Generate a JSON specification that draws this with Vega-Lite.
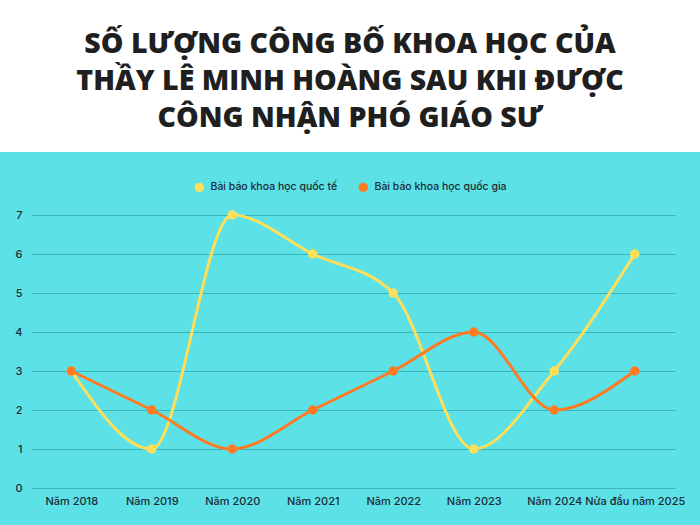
{
  "$schema": "https://vega.github.io/schema/vega-lite/v6.json",
  "background": "white",
  "padding": {"top": 29, "left": 0, "right": 0, "bottom": 0},
  "width": 700,
  "height": 373,
  "title": {
    "text": ["SỐ LƯỢNG CÔNG BỐ KHOA HỌC CỦA", "THẦY LÊ MINH HOÀNG SAU KHI ĐƯỢC", "CÔNG NHẬN PHÓ GIÁO SƯ"],
    "font": "Open Sans",
    "fontWeight": 800,
    "fontSize": 28.5,
    "lineHeight": 37,
    "color": "#1f1f1f",
    "anchor": "middle",
    "frame": "group",
    "offset": 20
  },
  "config": {
    "view": {"fill": "#5ce1e6", "stroke": null},
    "legend": {"layout": {"top": {"anchor": "middle"}}}
  },
  "data": {
    "values": [
      {"year": "Năm 2018", "series": "Bài báo khoa học quốc tế", "count": 3},
      {"year": "Năm 2018", "series": "Bài báo khoa học quốc gia", "count": 3},
      {"year": "Năm 2019", "series": "Bài báo khoa học quốc tế", "count": 1},
      {"year": "Năm 2019", "series": "Bài báo khoa học quốc gia", "count": 2},
      {"year": "Năm 2020", "series": "Bài báo khoa học quốc tế", "count": 7},
      {"year": "Năm 2020", "series": "Bài báo khoa học quốc gia", "count": 1},
      {"year": "Năm 2021", "series": "Bài báo khoa học quốc tế", "count": 6},
      {"year": "Năm 2021", "series": "Bài báo khoa học quốc gia", "count": 2},
      {"year": "Năm 2022", "series": "Bài báo khoa học quốc tế", "count": 5},
      {"year": "Năm 2022", "series": "Bài báo khoa học quốc gia", "count": 3},
      {"year": "Năm 2023", "series": "Bài báo khoa học quốc tế", "count": 1},
      {"year": "Năm 2023", "series": "Bài báo khoa học quốc gia", "count": 4},
      {"year": "Năm 2024", "series": "Bài báo khoa học quốc tế", "count": 3},
      {"year": "Năm 2024", "series": "Bài báo khoa học quốc gia", "count": 2},
      {"year": "Nửa đầu năm 2025", "series": "Bài báo khoa học quốc tế", "count": 6},
      {"year": "Nửa đầu năm 2025", "series": "Bài báo khoa học quốc gia", "count": 3}
    ]
  },
  "encoding": {
    "x": {
      "field": "year",
      "type": "ordinal",
      "sort": null,
      "scale": {"type": "point", "padding": 0.5, "range": [31, 675]},
      "axis": {
        "title": null,
        "labelAngle": 0,
        "domain": false,
        "ticks": false,
        "offset": -37,
        "labelPadding": 7,
        "labelFont": "Inter",
        "labelFontSize": 11,
        "labelFontWeight": 500,
        "labelColor": "#1d2b36"
      }
    },
    "y": {
      "field": "count",
      "type": "quantitative",
      "scale": {"domain": [0, 7], "nice": false, "range": [336, 63]},
      "axis": {
        "title": null,
        "values": [0, 1, 2, 3, 4, 5, 6, 7],
        "domain": false,
        "ticks": false,
        "offset": -31,
        "labelPadding": 9,
        "labelFont": "Inter",
        "labelFontSize": 11,
        "labelFontWeight": 500,
        "labelColor": "#1d2b36",
        "gridColor": "#3cb3b9",
        "gridWidth": 1.2
      }
    },
    "color": {
      "field": "series",
      "type": "nominal",
      "scale": {
        "domain": ["Bài báo khoa học quốc tế", "Bài báo khoa học quốc gia"],
        "range": ["#ffde59", "#ff7a22"]
      },
      "legend": {
        "title": null,
        "orient": "top",
        "direction": "horizontal",
        "offset": -41,
        "symbolType": "circle",
        "symbolSize": 90,
        "symbolOpacity": 1,
        "symbolStrokeWidth": 0,
        "labelFont": "Inter",
        "labelFontSize": 10.5,
        "labelFontWeight": 500,
        "labelColor": "#1d2b36",
        "labelOffset": 6,
        "columnPadding": 20
      }
    }
  },
  "layer": [
    {"mark": {"type": "line", "interpolate": "monotone", "strokeWidth": 3}},
    {"mark": {"type": "circle", "size": 90, "opacity": 1}}
  ]
}
